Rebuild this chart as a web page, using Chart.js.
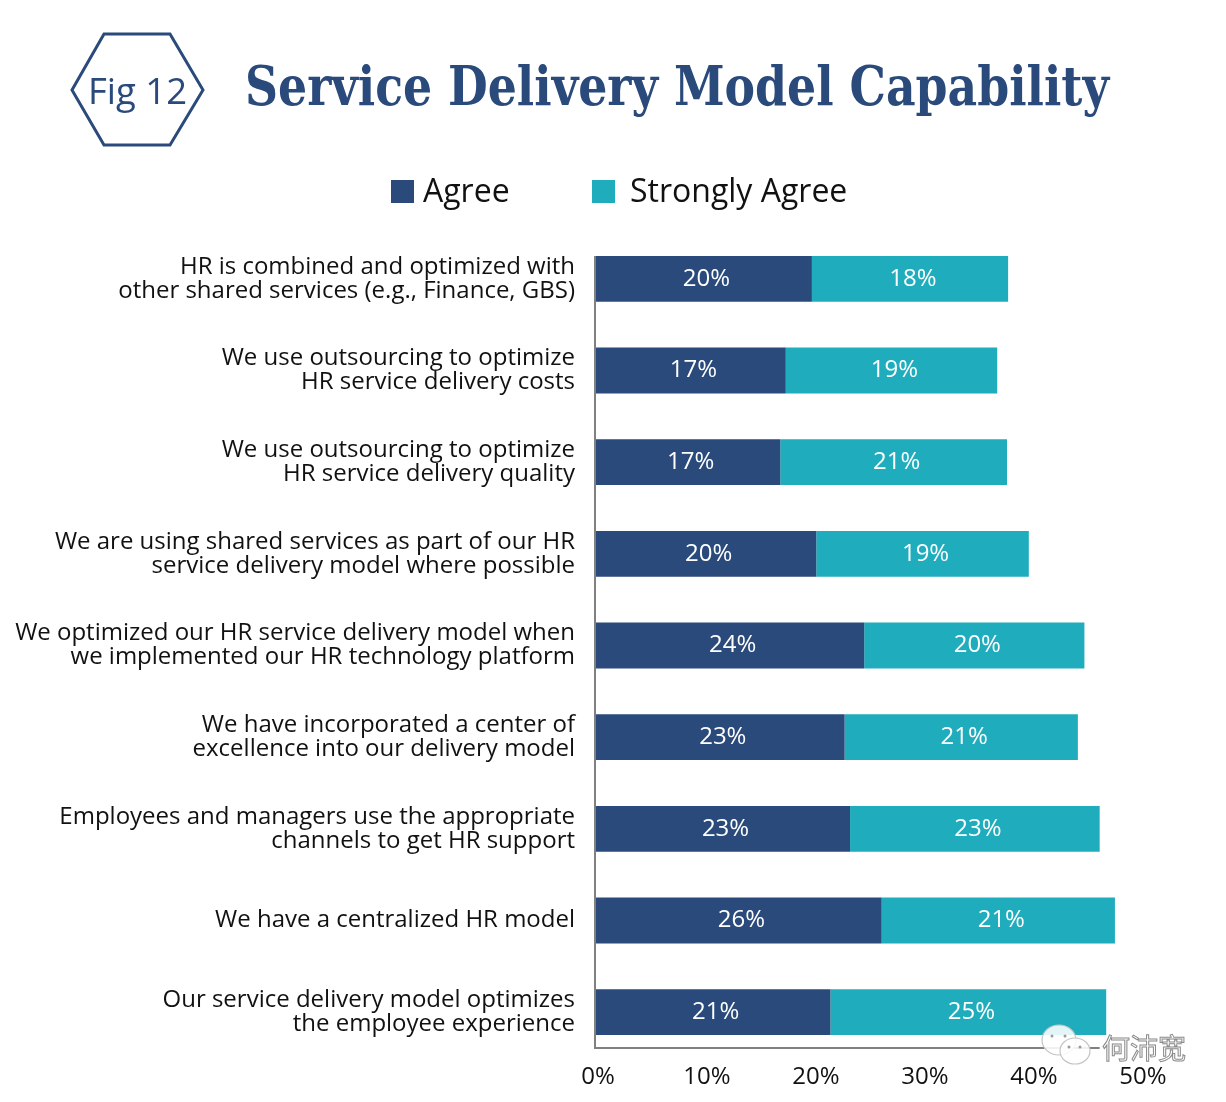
<!DOCTYPE html>
<html>
<head>
<meta charset="utf-8">
<title>Service Delivery Model Capability</title>
<script src="https://cdn.jsdelivr.net/npm/chart.js@4"></script>
<style>
  html, body { margin: 0; padding: 0; background: #fff; }
  #wrap { position: relative; width: 1226px; height: 1102px; overflow: hidden; }
  #chart { position: absolute; left: 0; top: 0; }
  #hex, #logo { position: absolute; left: 0; top: 0; }
  #fig { position: absolute; left: 88px; top: 65px; font: 36.5px "Open Sans", sans-serif; color: #2a4a7b; white-space: nowrap; }
  #title { position: absolute; left: 245px; top: 54px; font: bold 54px "DejaVu Serif", serif; font-stretch: condensed; color: #2a4a7b; white-space: nowrap; transform-origin: 0 50%; }
  #wm { position: absolute; left: 1102px; top: 1027px; font: 28px "Noto Sans CJK SC", sans-serif; color: #fff; -webkit-text-stroke: 1px #8a8a8a; white-space: nowrap; }
  .leg { position: absolute; top: 168px; font: 32px "Open Sans", sans-serif; color: #111; white-space: nowrap; }
  .swatch { position: absolute; top: 180px; width: 23px; height: 23px; }
</style>
</head>
<body>
<div id="wrap">
  <canvas id="chart" width="1226" height="1102"></canvas>
  <svg id="hex" width="240" height="170">
    <polygon points="104,34 170,34 203,90 170,145 104,145 72,90" fill="none" stroke="#2a4a7b" stroke-width="3"/>
  </svg>
  <div id="fig">Fig 12</div>
  <div id="title">Service Delivery Model Capability</div>
  <div id="legend"></div>
  <svg id="logo" width="1226" height="1102">
    <g fill="#fff" fill-opacity="0.88" stroke="#c4c4c4" stroke-width="1.2">
      <ellipse cx="1059" cy="1040" rx="17" ry="15"/>
      <ellipse cx="1075" cy="1051" rx="15" ry="13"/>
    </g>
    <g fill="#9a9a9a">
      <circle cx="1052" cy="1036" r="1.5"/><circle cx="1065" cy="1036" r="1.5"/>
      <circle cx="1069" cy="1047" r="1.5"/><circle cx="1080" cy="1047" r="1.5"/>
    </g>
  </svg>
  <div id="wm">何沛宽</div>
</div>
<script>
const categories = [
  ['HR is combined and optimized with', 'other shared services (e.g., Finance, GBS)'],
  ['We use outsourcing to optimize', 'HR service delivery costs'],
  ['We use outsourcing to optimize', 'HR service delivery quality'],
  ['We are using shared services as part of our HR', 'service delivery model where possible'],
  ['We optimized our HR service delivery model when', 'we implemented our HR technology platform'],
  ['We have incorporated a center of', 'excellence into our delivery model'],
  ['Employees and managers use the appropriate', 'channels to get HR support'],
  'We have a centralized HR model',
  ['Our service delivery model optimizes', 'the employee experience'],
];
// бары читаются по пикселям, подписи в оригинале округлены отдельно
const agree = [19.9, 17.5, 17.0, 20.3, 24.7, 22.9, 23.4, 26.3, 21.6];
const stronglyAgree = [18.0, 19.4, 20.8, 19.5, 20.2, 21.4, 22.9, 21.4, 25.3];
const agreeLabels = ['20%', '17%', '17%', '20%', '24%', '23%', '23%', '26%', '21%'];
const stronglyLabels = ['18%', '19%', '21%', '19%', '20%', '21%', '23%', '21%', '25%'];
const xTicks = [0, 10, 20, 30, 40, 50];

const NAVY = '#2a4a7b';
const TEAL = '#1fadbd';
const FONT = '"Open Sans", sans-serif';

// подписи внутри баров и укороченные оси как в оригинале
const barLabels = {
  id: 'barLabels',
  afterDatasetsDraw(chart) {
    const { ctx } = chart;
    const sets = [agreeLabels, stronglyLabels];
    ctx.save();
    ctx.fillStyle = '#fff';
    ctx.font = `24px ${FONT}`;
    ctx.textAlign = 'center';
    ctx.textBaseline = 'middle';
    sets.forEach((labels, d) => {
      chart.getDatasetMeta(d).data.forEach((bar, i) => {
        ctx.fillText(labels[i], (bar.base + bar.x) / 2 + 3, bar.y);
      });
    });
    ctx.restore();
  },
};

const axisLines = {
  id: 'axisLines',
  afterDraw(chart) {
    const { ctx, scales: { x } } = chart;
    const bars = chart.getDatasetMeta(0).data;
    const x0 = x.getPixelForValue(0);
    const top = bars[0].y - bars[0].height / 2;
    const bottom = bars[bars.length - 1].y + bars[0].height / 2 + 13;
    ctx.save();
    ctx.strokeStyle = '#808080';
    ctx.lineWidth = 2;
    ctx.beginPath();
    ctx.moveTo(x0, top);
    ctx.lineTo(x0, bottom);
    ctx.lineTo(x.getPixelForValue(46.3), bottom);
    ctx.stroke();
    ctx.restore();
  },
};

const chart = new Chart(document.getElementById('chart'), {
  type: 'bar',
  data: {
    labels: categories,
    datasets: [
      { label: 'Agree', data: agree, backgroundColor: NAVY, borderWidth: 0, stack: 's' },
      { label: 'Strongly Agree', data: stronglyAgree, backgroundColor: TEAL, borderWidth: 0, stack: 's' },
    ],
  },
  options: {
    indexAxis: 'y',
    responsive: false,
    animation: false,
    categoryPercentage: 1,
    barPercentage: 0.5,
    layout: { padding: { left: 0, right: 86, top: 233, bottom: 0 } },
    plugins: {
      legend: { display: false },
      tooltip: { enabled: false },
    },
    scales: {
      x: {
        stacked: true,
        min: 0,
        max: 50,
        afterBuildTicks: (s) => { s.ticks = xTicks.map(v => ({ value: v })); },
        afterFit: (s) => { s.height = 44; },
        grid: { display: false, tickLength: 0 },
        border: { display: false },
        ticks: { color: '#111', padding: 5, maxRotation: 0, labelOffset: 3, font: { family: FONT, size: 24 }, callback: v => v + '%' },
      },
      y: {
        stacked: true,
        afterFit: (s) => { s.width = 595; },
        grid: { display: false },
        border: { display: false },
        ticks: { color: '#111', padding: 12, font: { family: FONT, size: 24, lineHeight: 1 } },
      },
    },
  },
  plugins: [barLabels, axisLines],
});

// легенда — отдельно, у Chart.js нет нужных зазоров между пунктами
const legendEl = document.getElementById('legend');
const legendPos = [{ box: 391, text: 423 }, { box: 592, text: 630 }];
chart.data.datasets.forEach((ds, i) => {
  const sw = document.createElement('div');
  sw.className = 'swatch';
  sw.style.left = legendPos[i].box + 'px';
  sw.style.background = ds.backgroundColor;
  const tx = document.createElement('div');
  tx.className = 'leg';
  tx.style.left = legendPos[i].text + 'px';
  tx.textContent = ds.label;
  legendEl.append(sw, tx);
});

// заголовок подгоняем по ширине оригинала
const titleEl = document.getElementById('title');
titleEl.style.transform = `scaleX(${864 / titleEl.getBoundingClientRect().width})`;
</script>
</body>
</html>
